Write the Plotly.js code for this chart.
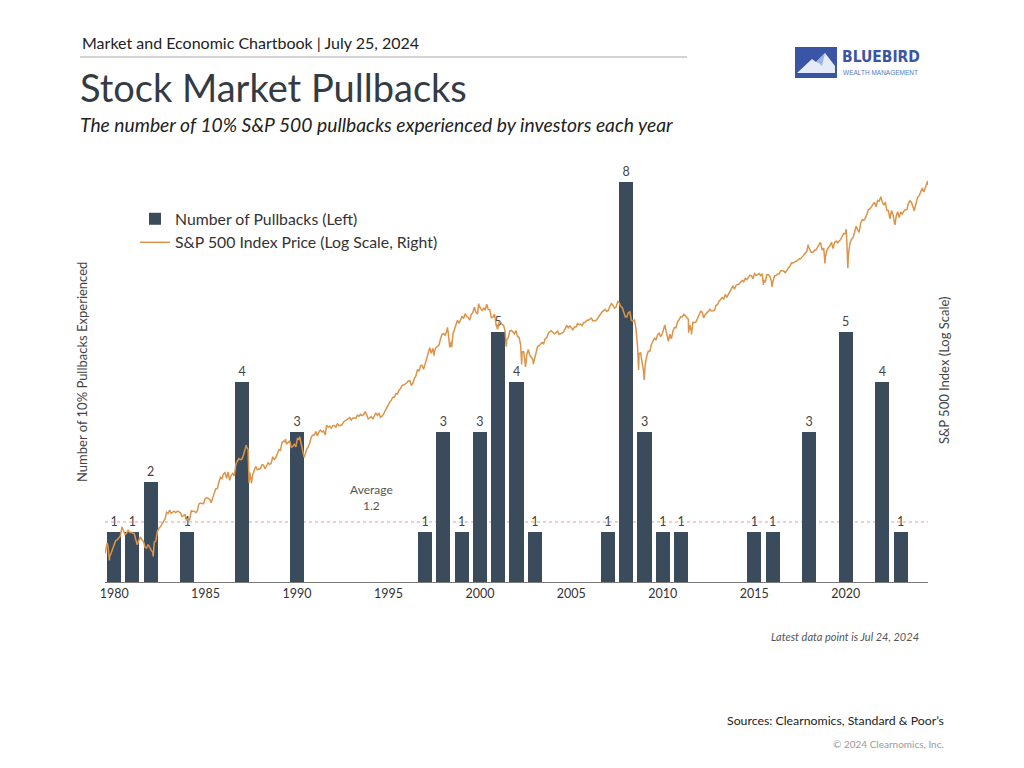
<!DOCTYPE html>
<html>
<head>
<meta charset="utf-8">
<script src="https://cdn.plot.ly/plotly-3.0.1.min.js"></script>
<style>html,body{margin:0;padding:0;background:#fff;}#chart{width:1024px;height:768px;}</style>
</head>
<body>
<div id="chart"></div>
<script>
// ---- Pullback counts per year ----
const pullbackYears  = [1980,1981,1982,1984,1987,1990,1997,1998,1999,2000,2001,2002,2003,2007,2008,2009,2010,2011,2015,2016,2018,2020,2022,2023];
const pullbackCounts = [1,   1,   2,   1,   4,   3,   1,   3,   1,   3,   5,   4,   1,   1,   8,   3,   1,   1,   1,   1,   3,   5,   4,   1];
const averagePullbacks = 1.2;
const xTickYears = [1980,1985,1990,1995,2000,2005,2010,2015,2020];

// ---- S&P 500 month-end closes (Jan 1980 onward) ----
const spx1980s = [
114.16,113.66,102.09,106.29,111.24,114.24,121.67,122.38,125.46,127.47,140.52,135.76,
129.55,131.27,136.00,132.81,132.59,131.21,130.92,122.79,116.18,121.89,126.35,122.55,
120.40,113.11,111.96,116.44,111.88,109.61,107.09,119.51,120.42,133.71,138.54,140.64,
145.30,148.06,152.96,164.42,162.39,168.11,162.56,164.40,166.07,163.55,166.40,164.93,
163.41,157.06,159.18,160.05,150.55,153.18,150.66,166.68,166.10,166.09,163.58,167.24,
179.63,181.18,180.66,179.83,189.55,191.85,190.92,188.63,182.08,189.82,202.17,211.28,
211.78,226.92,238.90,235.52,247.35,250.84,236.12,252.93,231.32,243.98,249.22,242.17,
274.08,284.20,291.70,288.36,290.10,304.00,318.66,329.80,321.83,251.79,230.30,247.08,
257.07,267.82,258.89,261.33,262.16,273.50,272.02,261.52,271.91,278.97,273.70,277.72,
297.47,288.86,294.87,309.64,320.52,317.98,346.08,351.45,349.15,340.36,345.99,353.40];
const spx1990s = [
329.08,331.89,339.94,330.80,361.23,358.02,356.15,322.56,306.05,304.00,322.22,330.22,
343.93,367.07,375.22,375.35,389.83,371.16,387.81,395.43,387.86,392.46,375.22,417.09,
408.79,412.70,403.69,414.95,415.35,408.14,424.21,414.03,417.80,418.68,431.35,435.71,
438.78,443.38,451.67,440.19,450.19,450.53,448.13,463.56,458.93,467.83,461.79,466.45,
481.61,467.14,445.77,450.91,456.50,444.27,458.26,475.49,462.69,472.35,453.69,459.27,
470.42,487.39,500.71,514.71,533.40,544.75,562.06,561.88,584.41,581.50,605.37,615.93,
636.02,640.43,645.50,654.17,669.12,670.63,639.95,651.99,687.31,705.27,757.02,740.74,
786.16,790.82,757.12,801.34,848.28,885.14,954.29,899.47,947.28,914.62,955.40,970.43,
980.28,1049.34,1101.75,1111.75,1090.82,1133.84,1120.67,957.28,1017.01,1098.67,1163.63,1229.23,
1279.64,1238.33,1286.37,1335.18,1301.84,1372.71,1328.72,1320.41,1282.71,1362.93,1388.91,1469.25];
const spx2000s = [
1394.46,1366.42,1498.58,1452.43,1420.60,1454.60,1430.83,1517.68,1436.51,1429.40,1314.95,1320.28,
1366.01,1239.94,1160.33,1249.46,1255.82,1224.42,1211.23,1133.58,1040.94,1059.78,1139.45,1148.08,
1130.20,1106.73,1147.39,1076.92,1067.14,989.82,911.62,916.07,815.28,885.76,936.31,879.82,
855.70,841.15,848.18,916.92,963.59,974.50,990.31,1008.01,995.97,1050.71,1058.20,1111.92,
1131.13,1144.94,1126.21,1107.30,1120.68,1140.84,1101.72,1104.24,1114.58,1130.20,1173.82,1211.92,
1181.27,1203.60,1180.59,1156.85,1191.50,1191.33,1234.18,1220.33,1228.81,1207.01,1249.48,1248.29,
1280.08,1280.66,1294.83,1310.61,1270.09,1270.20,1276.66,1303.82,1335.85,1377.94,1400.63,1418.30,
1438.24,1406.82,1420.86,1482.37,1530.62,1503.35,1455.27,1473.99,1526.75,1549.38,1481.14,1468.36,
1378.55,1330.63,1322.70,1385.59,1400.38,1280.00,1267.38,1282.83,1166.36,968.75,896.24,903.25,
825.88,735.09,797.87,872.81,919.14,919.32,987.48,1020.62,1057.08,1036.19,1095.63,1115.10];
const spx2010s = [
1073.87,1104.49,1169.43,1186.69,1089.41,1030.71,1101.60,1049.33,1141.20,1183.26,1180.55,1257.64,
1286.12,1327.22,1325.83,1363.61,1345.20,1320.64,1292.28,1218.89,1131.42,1253.30,1246.96,1257.60,
1312.41,1365.68,1408.47,1397.91,1310.33,1362.16,1379.32,1406.58,1440.67,1412.16,1416.18,1426.19,
1498.11,1514.68,1569.19,1597.57,1630.74,1606.28,1685.73,1632.97,1681.55,1756.54,1805.81,1848.36,
1782.59,1859.45,1872.34,1883.95,1923.57,1960.23,1930.67,2003.37,1972.29,2018.05,2067.56,2058.90,
1994.99,2104.50,2067.89,2085.51,2107.39,2063.11,2103.84,1972.18,1920.03,2079.36,2080.41,2043.94,
1940.24,1932.23,2059.74,2065.30,2096.95,2098.86,2173.60,2170.95,2168.27,2126.15,2198.81,2238.83,
2278.87,2363.64,2362.72,2384.20,2411.80,2423.41,2470.30,2471.65,2519.36,2575.26,2647.58,2673.61,
2823.81,2713.83,2640.87,2648.05,2705.27,2718.37,2816.29,2901.52,2913.98,2711.74,2760.17,2506.85,
2704.10,2784.49,2834.40,2945.83,2752.06,2941.76,2980.38,2926.46,2976.74,3037.56,3140.98,3230.78];
const spx2020s = [
3225.52,2954.22,2584.59,2912.43,3044.31,3100.29,3271.12,3500.31,3363.00,3269.96,3621.63,3756.07,
3714.24,3811.15,3972.89,4181.17,4204.11,4297.50,4395.26,4522.68,4307.54,4605.38,4567.00,4766.18,
4515.55,4373.94,4530.41,4131.93,4132.15,3785.38,4130.29,3955.00,3585.62,3871.98,4080.11,3839.50,
4076.60,3970.15,4109.31,4169.48,4179.83,4450.38,4588.96,4507.66,4288.05,4193.80,4567.80,4769.83,
4845.65,5096.27,5254.35,5035.69,5277.51,5460.48];

// ---- Intra-month highs/lows visible in the line (decimal year, close) ----
const spxExtremeDates  = [1980.00,1980.12,1980.24,1982.61,1987.65,1987.80,1987.93,1989.77,1990.54,1990.78,1997.82,1998.54,1998.77,2000.23,2001.72,2002.56,2002.77,2003.19,2007.77,2008.89,2009.19,2010.31,2010.505,2011.60,2011.753,2015.65,2016.11,2018.07,2018.72,2018.98,2020.13,2020.22,2022.005,2022.78,2023.82,2024.54,2024.56];
const spxExtremeValues = [105.76, 118.44, 98.22, 102.42, 336.77, 224.84, 223.92, 359.80, 368.95, 295.46, 876.99, 1186.75,959.44, 1527.46,965.80, 797.70, 776.76, 800.73, 1565.15,752.44, 676.53, 1217.28,1022.58, 1119.46,1099.23, 1867.61,1829.08,2872.87,2930.75,2351.10,3386.15,2237.40,4796.56, 3577.03,4117.37,5667.20,5427.13];

// build the line series
const monthly = [].concat(spx1980s, spx1990s, spx2000s, spx2010s, spx2020s);
let pts = monthly.map((v, i) => ({x: 1980 + (i + 1) / 12, y: v}));
spxExtremeDates.forEach((d, i) => pts.push({x: d, y: spxExtremeValues[i]}));
pts.sort((a, b) => a.x - b.x);
const lineX = pts.map(p => p.x), lineY = pts.map(p => p.y);

// plot-area geometry in page pixels
const L = 105, R = 928, T = 160, B = 582;
const px = x => (x - L) / (R - L);
const py = y => (B - y) / (B - T);

const FONT = 'Lato, "Source Sans Pro", "Open Sans", sans-serif';
const BAR = '#3a4b5c', LINE = '#dd9448';

const traces = [
  {
    type: 'bar', name: 'Number of Pullbacks (Left)',
    x: pullbackYears, y: pullbackCounts,
    width: 0.77, marker: {color: BAR},
    text: pullbackCounts.map(String), textposition: 'outside',
    textfont: {size: 12.5, color: '#444', family: FONT},
    cliponaxis: false, hoverinfo: 'x+y'
  },
  {
    type: 'scatter', mode: 'lines', name: 'S&P 500 Index Price (Log Scale, Right)',
    x: lineX, y: lineY, xaxis: 'x2', yaxis: 'y2',
    line: {color: LINE, width: 1.5}
  }
];

const ann = (x, y, text, size, opts) => Object.assign({
  xref: 'paper', yref: 'paper', x: px(x), y: py(y), text: text, showarrow: false,
  font: {family: FONT, size: size, color: '#333'}, xanchor: 'left', yanchor: 'middle'
}, opts || {});

const layout = {
  width: 1024, height: 768,
  margin: {l: L, r: 1024 - R, t: T, b: 768 - B, pad: 0},
  paper_bgcolor: '#fff', plot_bgcolor: 'rgba(0,0,0,0)',
  font: {family: FONT, color: '#333'},
  bargap: 0,
  showlegend: true,
  legend: {x: px(135), y: py(202), xanchor: 'left', yanchor: 'top',
           font: {size: 15.8, color: '#333', family: FONT}, bgcolor: 'rgba(0,0,0,0)',
           itemwidth: 30, tracegroupgap: 0},
  xaxis: {range: [1979.5, 2024.5], tickvals: xTickYears, ticktext: xTickYears.map(String),
          ticks: '', showgrid: false, zeroline: false, showline: true, linecolor: '#7a7a7a', linewidth: 1.2,
          tickfont: {size: 12.5, color: '#333', family: FONT}, fixedrange: true},
  xaxis2: {overlaying: 'x', range: [1980.0, 2024.56], visible: false, fixedrange: true},
  yaxis: {range: [0, (B - T) / 50], visible: false, fixedrange: true},
  yaxis2: {overlaying: 'y', type: 'log', range: [1.892, 3.851], visible: false, side: 'right', fixedrange: true},
  shapes: [
    {type: 'line', xref: 'paper', yref: 'y', x0: 0, x1: 1, y0: averagePullbacks, y1: averagePullbacks,
     layer: 'below', line: {color: '#e39a9a', width: 1, dash: 'dot'}},
    {type: 'line', xref: 'paper', yref: 'paper', x0: px(80), x1: px(687), y0: py(57), y1: py(57),
     line: {color: '#a8a8a8', width: 1}},
    // logo box
    {type: 'rect', xref: 'paper', yref: 'paper', x0: px(795), x1: px(837), y0: py(47), y1: py(78),
     fillcolor: '#3b55a6', line: {width: 0}},
    {type: 'path', xref: 'paper', yref: 'paper',
     path: 'M ' + px(797) + ' ' + py(73) + ' L ' + px(812) + ' ' + py(59) + ' L ' + px(816) + ' ' + py(62) +
           ' L ' + px(825) + ' ' + py(53) + ' L ' + px(835) + ' ' + py(66) + ' L ' + px(835) + ' ' + py(73) + ' Z',
     fillcolor: '#e6ecf7', line: {width: 0}},
    {type: 'path', xref: 'paper', yref: 'paper',
     path: 'M ' + px(816) + ' ' + py(62) + ' L ' + px(825) + ' ' + py(53) + ' L ' + px(822) + ' ' + py(66) +
           ' L ' + px(819) + ' ' + py(63) + ' Z',
     fillcolor: '#9fb3de', line: {width: 0}}
  ],
  annotations: [
    ann(80, 42, 'Market and Economic Chartbook | July 25, 2024', 16, {font: {family: FONT, size: 16, color: '#222'}}),
    ann(78, 87, 'Stock Market Pullbacks', 38, {font: {family: FONT, size: 38, color: '#333b44'}}),
    ann(78, 124, '<i>The number of 10% S&P 500 pullbacks experienced by investors each year</i>', 19.3,
        {font: {family: FONT, size: 19.3, color: '#222'}}),
    ann(840, 57, '<b>BLUEBIRD</b>', 15.5, {font: {family: '"Liberation Sans Narrow", "DejaVu Sans Condensed", sans-serif', size: 15.5, color: '#3b55a6'}}),
    ann(841, 73, 'WEALTH MANAGEMENT', 6.5, {font: {family: '"Liberation Sans Narrow", sans-serif', size: 6.5, color: '#5877c2'}}),
    ann(82, 372, 'Number of 10% Pullbacks Experienced', 13, {xanchor: 'center', textangle: -90,
        font: {family: FONT, size: 13, color: '#444'}}),
    ann(944, 370, 'S&P 500 Index (Log Scale)', 13, {xanchor: 'center', textangle: -90,
        font: {family: FONT, size: 13, color: '#444'}}),
    ann(371, 497, 'Average<br>1.2', 12, {xanchor: 'center', font: {family: FONT, size: 12, color: '#555'}}),
    ann(921, 636, '<i>Latest data point is Jul 24, 2024</i>', 11, {xanchor: 'right', font: {family: FONT, size: 11, color: '#555'}}),
    ann(946, 720, 'Sources: Clearnomics, Standard & Poor\u2019s', 12.3, {xanchor: 'right', font: {family: FONT, size: 12.3, color: '#222'}}),
    ann(946, 744, '\u00a9 2024 Clearnomics, Inc.', 10, {xanchor: 'right', font: {family: FONT, size: 10, color: '#9a9a9a'}})
  ]
};

Plotly.newPlot('chart', traces, layout, {displayModeBar: false, staticPlot: true});
</script>
</body>
</html>
